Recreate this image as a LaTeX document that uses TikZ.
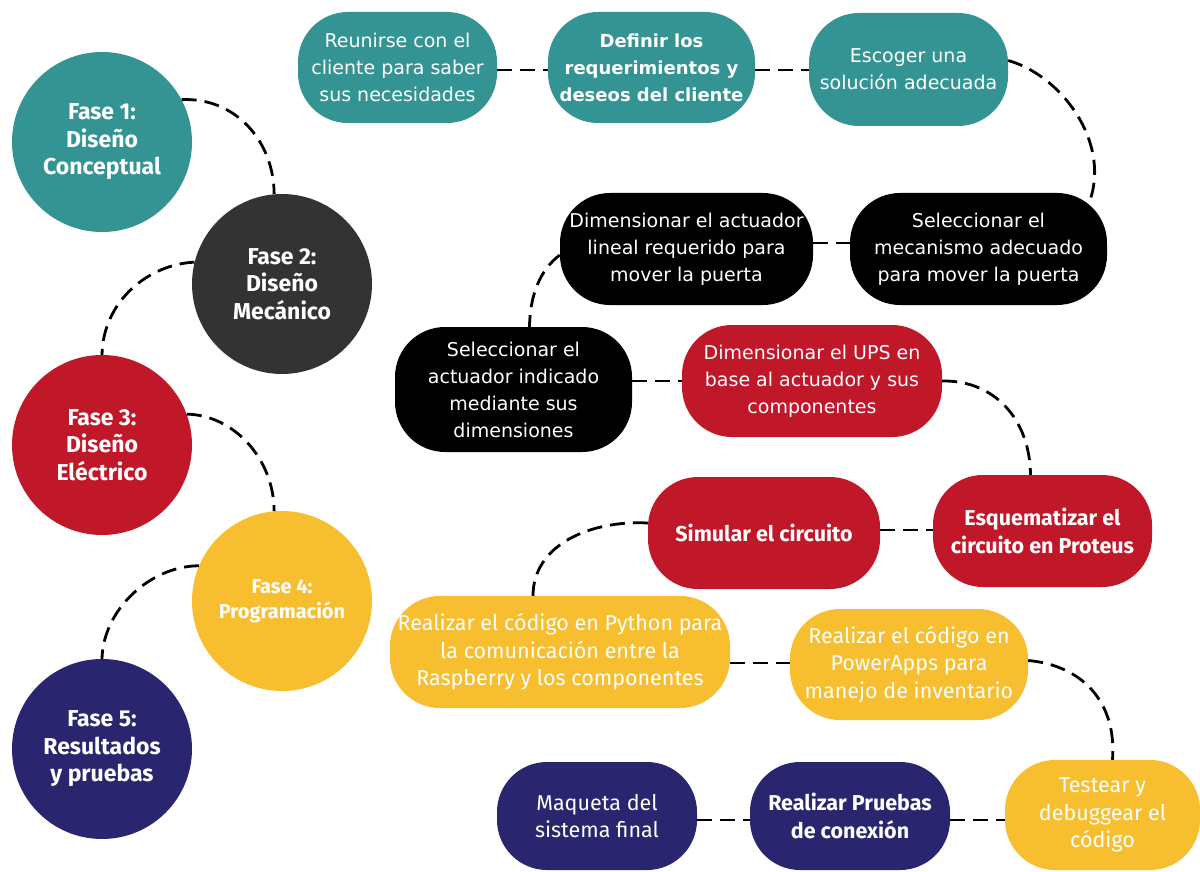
\documentclass[tikz,border=0pt]{standalone}
\usepackage{fontspec}
\setmainfont{DejaVu Sans}
\newfontfamily\fira{Fira Sans}
\usetikzlibrary{calc}
\definecolor{tealc}{RGB}{52,148,148}
\definecolor{darkc}{RGB}{51,51,51}
\definecolor{redc}{RGB}{192,24,40}
\definecolor{yellowc}{RGB}{247,190,48}
\definecolor{navyc}{RGB}{41,38,111}
\begin{document}
\begin{tikzpicture}[x=1pt,y=-1pt,
  box/.style={rectangle, rounded corners=50pt, text=white, align=center, inner sep=0pt, font=\fontsize{19}{27}\selectfont},
  fbox/.style={box, font=\fira\fontsize{21.5}{27.5}\selectfont},
  fboxb/.style={box, font=\fira\bfseries\fontsize{21.5}{27.5}\selectfont},
  phase/.style={circle, minimum size=180pt, inner sep=0pt, text=white, align=center, font=\fira\bfseries\fontsize{23}{27.5}\selectfont},
  link/.style={draw=black, line width=2.8pt, dash pattern=on 15pt off 8pt},
]
\useasboundingbox (0,0) rectangle (1200,872);

% phase circles
\node[phase, fill=tealc] (f1) at (102,142) {Fase 1:\\Diseño\\Conceptual};
\node[phase, fill=darkc] (f2) at (282,284) {Fase 2:\\Diseño\\Mecánico};
\node[phase, fill=redc] (f3) at (102,445) {Fase 3:\\Diseño\\Eléctrico};
\node[phase, fill=yellowc, font=\fira\bfseries\fontsize{20}{25}\selectfont] (f4) at (282,601) {Fase 4:\\Programación};
\node[phase, fill=navyc] (f5) at (102,749) {Fase 5:\\Resultados\\y pruebas};

% boxes
\node[box, fill=tealc, minimum width=199pt, minimum height=111pt] (b1) at (397.5,67.5) {Reunirse con el\\cliente para saber\\sus necesidades};
\node[box, fill=tealc, minimum width=207pt, minimum height=111pt, font=\bfseries\fontsize{18}{27}\selectfont] (b2) at (651.5,67.5) {Definir los\\requerimientos y\\deseos del cliente};
\node[box, fill=tealc, minimum width=199pt, minimum height=113pt] (b3) at (908.5,69.5) {Escoger una\\solución adecuada};
\node[box, fill=black, minimum width=257pt, minimum height=112pt] (b4) at (978.5,249) {Seleccionar el\\mecanismo adecuado\\para mover la puerta};
\node[box, fill=black, minimum width=253pt, minimum height=112pt] (b5) at (686.5,249) {Dimensionar el actuador\\lineal requerido para\\mover la puerta};
\node[box, fill=black, minimum width=237pt, minimum height=125pt] (b6) at (513.5,389.5) {Seleccionar el\\actuador indicado\\mediante sus\\dimensiones};
\node[box, fill=redc, minimum width=260pt, minimum height=112pt] (b7) at (812,381) {Dimensionar el UPS en\\base al actuador y sus\\componentes};
\node[fboxb, fill=redc, minimum width=232pt, minimum height=112pt] (b8) at (764,533) {Simular el circuito};
\node[fboxb, fill=redc, minimum width=219pt, minimum height=112pt] (b9) at (1042.5,531) {Esquematizar el\\circuito en Proteus};
\node[fbox, fill=yellowc, minimum width=340pt, minimum height=112pt] (b10) at (560,652) {Realizar el código en Python para\\la comunicación entre la\\Raspberry y los componentes};
\node[fbox, fill=yellowc, minimum width=238pt, minimum height=111pt] (b11) at (909,664.5) {Realizar el código en\\PowerApps para\\manejo de inventario};
\node[fbox, fill=yellowc, minimum width=195pt, minimum height=110pt] (b12) at (1102.5,815) {Testear y\\debuggear el\\código};
\node[fboxb, fill=navyc, minimum width=200pt, minimum height=108pt] (b13) at (850,816) {Realizar Pruebas\\de conexión};
\node[fbox, fill=navyc, minimum width=200pt, minimum height=108pt] (b14) at (597,816) {Maqueta del\\sistema final};

% phase connectors
\draw[link] (f1.28) .. controls (235,97) and (274,141) .. (f2.95);
\draw[link] (f2.166) .. controls (150,264) and (103,300) .. (f3.90);
\draw[link] (f3.20) .. controls (234,415) and (274,459) .. (f4.95);
\draw[link] (f4.157) .. controls (150,566) and (103,610) .. (f5.90);

% straight connectors
\draw[link] (b1.east |- 0,70) -- (b2.west |- 0,70);
\draw[link] (b2.east |- 0,70) -- (b3.west |- 0,70);
\draw[link] (b5.east |- 0,243) -- (b4.west |- 0,243);
\draw[link] (b6.east |- b7) -- (b7.west);
\draw[link] (b8.east |- 0,530) -- (b9.west |- 0,530);
\draw[link] (b10.east |- 0,663) -- (b11.west |- 0,663);
\draw[link] (b13.east |- 0,820) -- (b12.west |- 0,820);
\draw[link] (b14.east |- 0,820) -- (b13.west |- 0,820);

% curved connectors
\draw[link] ($(b3.east)+(0,-9)$) .. controls (1060,75) and (1110,140) .. ($(b4.north east)+(-17,7)$);
\draw[link] ($(b5.west)+(0,6)$) .. controls (540,270) and (530,295) .. ($(b6.north)+(16,0)$);
\draw[link] (b7.east) .. controls (995,380) and (1030,420) .. ($(b9.north)+(-12,0)$);
\draw[link] ($(b8.west)+(0,-10)$) .. controls (590,520) and (533,545) .. ($(b10.north)+(-27,0)$);
\draw[link] ($(b11.east)+(0,-4)$) .. controls (1080,665) and (1117,700) .. ($(b12.north)+(10,0)$);
\end{tikzpicture}
\end{document}
